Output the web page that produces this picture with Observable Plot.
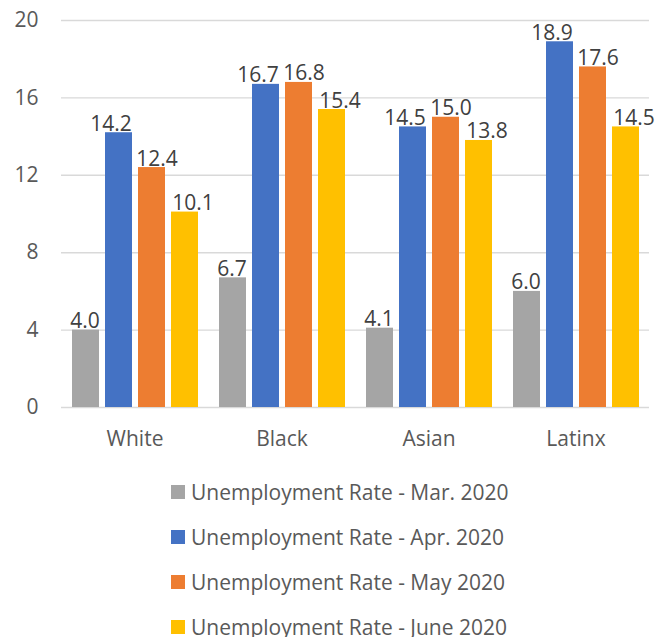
<!DOCTYPE html>
<html>
<head>
<meta charset="utf-8">
<script src="https://cdn.jsdelivr.net/npm/d3@7"></script>
<script src="https://cdn.jsdelivr.net/npm/@observablehq/plot@0.6"></script>
<style>
  body { margin: 0; background: #fff; font-family: "Open Sans", sans-serif; }
  #legend { margin-left: 171px; margin-top: 9px; }
  .row { display: flex; align-items: center; height: 45px; font-size: 21px; color: #595959; white-space: nowrap; }
  .sw { width: 14px; height: 14px; margin-right: 6px; flex: none; }
</style>
</head>
<body>
<div id="chart"></div>
<div id="legend"></div>
<script>
const categories = ["White", "Black", "Asian", "Latinx"];
const seriesNames = [
  "Unemployment Rate - Mar. 2020",
  "Unemployment Rate - Apr. 2020",
  "Unemployment Rate - May 2020",
  "Unemployment Rate - June 2020"
];
const mar2020 = [4.0, 6.7, 4.1, 6.0];
const apr2020 = [14.2, 16.7, 14.5, 18.9];
const may2020 = [12.4, 16.8, 15.0, 17.6];
const june2020 = [10.1, 15.4, 13.8, 14.5];
const seriesColors = ["#A5A5A5", "#4472C4", "#ED7D31", "#FFC000"];
const yTicks = [0, 4, 8, 12, 16, 20];

// label nudges per series (style, as in the source chart)
const labelShift = [-1, -8, 5, 8];

const seriesValues = [mar2020, apr2020, may2020, june2020];
const data = categories.flatMap((c, i) =>
  seriesNames.map((s, j) => ({category: c, series: s, value: seriesValues[j][i]}))
);

const chart = Plot.plot({
  width: 662,
  height: 460,
  marginLeft: 60,
  marginRight: 13,
  marginTop: 20,
  marginBottom: 53,
  style: {fontFamily: "Open Sans", fontSize: "21px", background: "#fff", overflow: "visible"},
  fx: {domain: categories, padding: 0, label: null},
  x: {domain: seriesNames, axis: null, paddingInner: 0.19, paddingOuter: 0.305},
  y: {domain: [0, 20], label: null},
  color: {domain: seriesNames, range: seriesColors},
  marks: [
    Plot.gridY(yTicks, {stroke: "#d9d9d9", strokeOpacity: 1, strokeWidth: 1.4}),
    Plot.barY(data, {fx: "category", x: "series", y: "value", fill: "series"}),
    ...seriesNames.map((s, j) =>
      Plot.text(data.filter(d => d.series === s), {fx: "category", x: "series", y: "value",
        text: d => d.value.toFixed(1), lineAnchor: "bottom", dy: -2, dx: labelShift[j],
        fontSize: 21, fill: "#404040"})
    ),
    Plot.axisY(yTicks, {tickSize: 0, tickPadding: 23, fontSize: 21, color: "#595959", label: null}),
    Plot.axisFx({anchor: "bottom", tickSize: 0, tickPadding: 24, fontSize: 21, color: "#595959", label: null})
  ]
});
document.getElementById("chart").append(chart);

const legend = document.getElementById("legend");
seriesNames.forEach((s, i) => {
  const row = document.createElement("div");
  row.className = "row";
  const sw = document.createElement("div");
  sw.className = "sw";
  sw.style.background = seriesColors[i];
  const t = document.createElement("span");
  t.textContent = s;
  row.append(sw, t);
  legend.append(row);
});
</script>
</body>
</html>
